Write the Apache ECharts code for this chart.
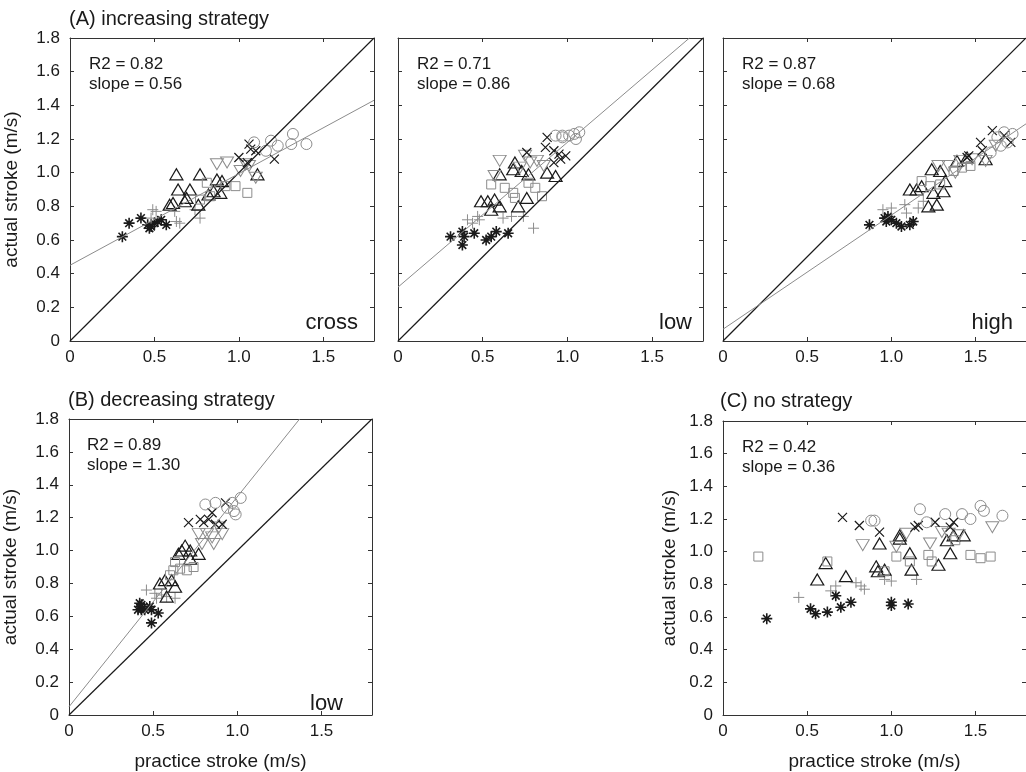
<!DOCTYPE html>
<html><head><meta charset="utf-8">
<script src="https://cdn.jsdelivr.net/npm/echarts@6/dist/echarts.min.js"></script>
<style>html,body{margin:0;padding:0;background:#fff}#c{width:1026px;height:772px}</style>
</head><body><div id="c"></div><script>
// ---------- data (practice stroke, actual stroke) in m/s ----------
const xTicks = [0, 0.5, 1.0, 1.5];
const yTicks = [0, 0.2, 0.4, 0.6, 0.8, 1.0, 1.2, 1.4, 1.6, 1.8];
const panelTitles = ['(A) increasing strategy', '(B) decreasing strategy', '(C) no strategy'];
const statsR2 = ['0.82', '0.71', '0.87', '0.89', '0.42'];
const statsSlope = ['0.56', '0.86', '0.68', '1.30', '0.36'];
const cornerLabels = ['cross', 'low', 'high', 'low', ''];
const identityLine = [[0, 0], [1.8, 1.8]];
const fitA1 = [[0, 0.45], [1.8, 1.43]];
const fitA2 = [[0, 0.32], [1.72, 1.8]];
const fitA3 = [[0, 0.07], [1.8, 1.29]];
const fitB = [[0, 0.05], [1.37, 1.8]];

const A1_star = [[0.31,0.62],[0.35,0.70],[0.42,0.73],[0.46,0.69],[0.48,0.68],[0.50,0.70],[0.52,0.71],[0.54,0.72],[0.57,0.69],[0.47,0.67]];
const A1_plus = [[0.49,0.78],[0.51,0.77],[0.48,0.73],[0.62,0.77],[0.63,0.71],[0.65,0.70],[0.74,0.78],[0.77,0.73]];
const A1_tri = [[0.63,0.99],[0.77,0.99],[0.64,0.90],[0.71,0.90],[0.59,0.81],[0.61,0.82],[0.68,0.83],[0.69,0.85],[0.76,0.81],[0.82,0.87],[0.85,0.89],[0.87,0.96],[0.89,0.88],[0.90,0.95],[1.11,0.99]];
const A1_sq = [[0.77,0.84],[0.81,0.94],[0.83,0.86],[0.92,0.92],[0.98,0.92],[1.05,0.88]];
const A1_dtri = [[0.87,1.05],[0.93,1.06],[1.01,1.01],[1.04,1.05],[1.06,1.04],[1.10,0.97]];
const A1_x = [[1.00,1.09],[1.05,1.06],[1.06,1.17],[1.07,1.14],[1.10,1.13],[1.21,1.08]];
const A1_circ = [[1.09,1.18],[1.16,1.13],[1.19,1.19],[1.23,1.16],[1.31,1.17],[1.32,1.23],[1.40,1.17]];

const A2_star = [[0.31,0.62],[0.38,0.65],[0.39,0.62],[0.38,0.57],[0.45,0.64],[0.52,0.60],[0.55,0.62],[0.58,0.65],[0.65,0.64]];
const A2_plus = [[0.41,0.72],[0.44,0.70],[0.47,0.74],[0.48,0.72],[0.62,0.73],[0.67,0.74],[0.74,0.74],[0.80,0.67]];
const A2_tri = [[0.49,0.83],[0.53,0.83],[0.57,0.84],[0.55,0.78],[0.60,0.80],[0.71,0.80],[0.76,0.85],[0.60,0.99],[0.69,1.06],[0.68,1.02],[0.73,1.01],[0.77,0.99],[0.88,1.00],[0.93,0.98]];
const A2_sq = [[0.55,0.93],[0.63,0.91],[0.68,0.88],[0.69,0.85],[0.77,0.94],[0.81,0.91],[0.85,0.86]];
const A2_dtri = [[0.60,1.07],[0.57,0.98],[0.72,1.03],[0.75,1.10],[0.78,1.06],[0.82,1.07],[0.86,1.04]];
const A2_x = [[0.76,1.12],[0.87,1.15],[0.88,1.21],[0.92,1.13],[0.92,1.06],[0.95,1.11],[0.96,1.08],[0.99,1.10]];
const A2_circ = [[0.93,1.22],[0.97,1.21],[0.97,1.22],[1.01,1.22],[1.04,1.23],[1.05,1.20],[1.07,1.24]];

const A3_star = [[0.87,0.69],[0.96,0.73],[0.97,0.71],[0.98,0.74],[1.00,0.72],[1.03,0.70],[1.06,0.68],[1.11,0.69],[1.13,0.71]];
const A3_plus = [[0.95,0.78],[1.00,0.79],[1.08,0.81],[1.09,0.76],[1.16,0.79],[1.19,0.83]];
const A3_tri = [[1.11,0.90],[1.15,0.90],[1.18,0.92],[1.24,1.02],[1.29,1.01],[1.32,0.95],[1.31,0.89],[1.25,0.88],[1.22,0.80],[1.27,0.81],[1.39,1.07],[1.45,1.09],[1.56,1.08]];
const A3_sq = [[1.18,0.95],[1.23,0.92],[1.29,0.93],[1.37,1.01],[1.42,1.03],[1.47,1.04]];
const A3_dtri = [[1.28,1.04],[1.34,1.04],[1.38,1.00],[1.41,1.07],[1.48,1.08],[1.56,1.07],[1.62,1.16]];
const A3_x = [[1.45,1.09],[1.46,1.10],[1.53,1.18],[1.54,1.13],[1.60,1.25],[1.67,1.22],[1.71,1.18]];
const A3_circ = [[1.59,1.12],[1.63,1.21],[1.65,1.16],[1.67,1.24],[1.69,1.18],[1.72,1.23]];

const B_star = [[0.41,0.64],[0.42,0.68],[0.43,0.64],[0.43,0.67],[0.45,0.64],[0.48,0.66],[0.49,0.64],[0.53,0.62],[0.49,0.56]];
const B_plus = [[0.46,0.76],[0.51,0.74],[0.52,0.71],[0.55,0.73],[0.58,0.72],[0.63,0.71]];
const B_tri = [[0.54,0.80],[0.57,0.82],[0.58,0.72],[0.61,0.82],[0.63,0.78],[0.65,0.98],[0.67,1.00],[0.69,1.03],[0.72,1.00],[0.72,0.95],[0.77,0.98]];
const B_sq = [[0.60,0.85],[0.62,0.88],[0.63,0.93],[0.66,0.89],[0.70,0.88],[0.74,0.90]];
const B_dtri = [[0.77,1.10],[0.79,1.04],[0.82,1.10],[0.85,1.08],[0.86,1.04],[0.89,1.14],[0.91,1.10]];
const B_x = [[0.71,1.17],[0.78,1.19],[0.80,1.17],[0.83,1.19],[0.85,1.23],[0.87,1.16],[0.91,1.16],[0.93,1.29]];
const B_circ = [[0.81,1.28],[0.87,1.29],[0.94,1.26],[0.97,1.29],[0.98,1.24],[0.99,1.22],[1.02,1.32]];

const C_star = [[0.26,0.59],[0.52,0.65],[0.55,0.62],[0.62,0.63],[0.67,0.73],[0.70,0.66],[0.76,0.69],[1.00,0.69],[1.00,0.67],[1.10,0.68]];
const C_plus = [[0.45,0.72],[0.64,0.76],[0.67,0.79],[0.79,0.81],[0.82,0.79],[0.84,0.77],[0.96,0.83],[1.00,0.82],[1.15,0.83]];
const C_tri = [[0.56,0.83],[0.61,0.93],[0.73,0.85],[0.91,0.91],[0.92,0.88],[0.96,0.89],[0.93,1.05],[1.05,1.10],[1.05,1.08],[1.11,0.99],[1.12,0.89],[1.28,0.92],[1.35,0.99],[1.33,1.07],[1.37,1.10],[1.43,1.10]];
const C_sq = [[0.21,0.97],[0.62,0.94],[0.96,0.88],[1.03,0.97],[1.11,0.94],[1.22,0.98],[1.24,0.94],[1.38,1.07],[1.47,0.98],[1.53,0.96],[1.59,0.97]];
const C_dtri = [[0.83,1.04],[1.03,1.03],[1.09,1.11],[1.23,1.05],[1.30,1.12],[1.34,1.11],[1.40,1.10],[1.60,1.15]];
const C_x = [[0.71,1.21],[0.81,1.16],[0.93,1.12],[1.14,1.15],[1.16,1.16],[1.26,1.18],[1.35,1.15],[1.37,1.18]];
const C_circ = [[0.88,1.19],[0.90,1.19],[1.17,1.26],[1.21,1.18],[1.32,1.23],[1.42,1.23],[1.47,1.20],[1.53,1.28],[1.55,1.25],[1.66,1.22]];

// ---------- layout / styling ----------
const FONT = '"Liberation Sans", Arial, Helvetica, sans-serif';
const BLACK = '#1a1a1a', GRAY = '#8c8c8c';
const grids = [
  {left: 70, top: 38, width: 304, height: 303},
  {left: 398, top: 38, width: 305, height: 303},
  {left: 723, top: 38, width: 305, height: 303},
  {left: 68, top: 419, width: 304, height: 303},
  {left: 723, top: 421, width: 305, height: 303}
];
const panelData = [
  {star: A1_star, plus: A1_plus, tri: A1_tri, sq: A1_sq, dtri: A1_dtri, x: A1_x, circ: A1_circ, fit: fitA1, ident: true, yLab: true, yName: true, xName: false},
  {star: A2_star, plus: A2_plus, tri: A2_tri, sq: A2_sq, dtri: A2_dtri, x: A2_x, circ: A2_circ, fit: fitA2, ident: true, yLab: false, yName: false, xName: false},
  {star: A3_star, plus: A3_plus, tri: A3_tri, sq: A3_sq, dtri: A3_dtri, x: A3_x, circ: A3_circ, fit: fitA3, ident: true, yLab: false, yName: false, xName: false},
  {star: B_star, plus: B_plus, tri: B_tri, sq: B_sq, dtri: B_dtri, x: B_x, circ: B_circ, fit: fitB, ident: true, yLab: true, yName: true, xName: true},
  {star: C_star, plus: C_plus, tri: C_tri, sq: C_sq, dtri: C_dtri, x: C_x, circ: C_circ, fit: null, ident: false, yLab: true, yName: true, xName: true}
];
const markers = {
  star: {symbol: 'path://M5 0L5 10M0 5L10 5M1.5 1.5L8.5 8.5M1.5 8.5L8.5 1.5', size: 11, color: BLACK, width: 1.6},
  plus: {symbol: 'path://M6 0L6 12M0 6L12 6', size: 11, color: GRAY, width: 1},
  tri: {symbol: 'triangle', size: [13, 11], color: BLACK, width: 1.2},
  sq: {symbol: 'rect', size: 9, color: GRAY, width: 1},
  dtri: {symbol: 'triangle', size: [13, 11], color: GRAY, width: 1, rotate: 180},
  x: {symbol: 'path://M0 0L10 10M0 10L10 0', size: 9, color: BLACK, width: 1.2},
  circ: {symbol: 'circle', size: 11, color: GRAY, width: 1}
};
const fmt = v => (v === 0 ? '0' : v.toFixed(1));
const axisLineStyle = {color: '#333', width: 1};

const xAxis = [], yAxis = [], series = [], graphic = [];
grids.forEach((g, i) => {
  const p = panelData[i];
  const common = {
    type: 'value', gridIndex: i, min: 0, max: 1.8,
    axisLine: {show: true, onZero: false, lineStyle: axisLineStyle},
    axisTick: {show: true, inside: true, length: 4, lineStyle: axisLineStyle},
    splitLine: {show: false}
  };
  xAxis.push(Object.assign({}, common, {
    position: 'bottom', interval: 0.5,
    axisLabel: {show: true, formatter: v => (xTicks.includes(v) ? fmt(v) : ''), showMaxLabel: false,
      fontSize: 17, fontFamily: FONT, color: BLACK, margin: 8},
    name: p.xName ? 'practice stroke (m/s)' : '', nameLocation: 'middle', nameGap: 37,
    nameTextStyle: {fontSize: 19, fontFamily: FONT, color: BLACK}
  }));
  xAxis.push(Object.assign({}, common, {position: 'top', interval: 0.5, axisLabel: {show: false}}));
  yAxis.push(Object.assign({}, common, {
    position: 'left', interval: 0.2,
    axisLabel: {show: p.yLab, formatter: v => fmt(v), fontSize: 17, fontFamily: FONT, color: BLACK, margin: 10},
    name: p.yName ? 'actual stroke (m/s)' : '', nameLocation: 'middle', nameGap: i === 4 ? 44 : 49,
    nameTextStyle: {fontSize: 19, fontFamily: FONT, color: BLACK}
  }));
  yAxis.push(Object.assign({}, common, {position: 'right', interval: 0.2, axisLabel: {show: false}}));

  Object.keys(markers).forEach(k => {
    const m = markers[k];
    series.push({
      type: 'scatter', xAxisIndex: i * 2, yAxisIndex: i * 2, data: p[k],
      symbol: m.symbol, symbolSize: m.size, symbolRotate: m.rotate || 0,
      itemStyle: {color: 'transparent', borderColor: m.color, borderWidth: m.width, opacity: 1},
      emphasis: {disabled: true}, silent: true, z: 2
    });
  });
  if (p.ident) {
    series.push({type: 'line', xAxisIndex: i * 2, yAxisIndex: i * 2, data: identityLine,
      symbol: 'none', lineStyle: {color: BLACK, width: 1.2}, silent: true, z: 3});
  }
  if (p.fit) {
    series.push({type: 'line', xAxisIndex: i * 2, yAxisIndex: i * 2, data: p.fit,
      symbol: 'none', lineStyle: {color: GRAY, width: 1}, silent: true, z: 3});
  }
  graphic.push({type: 'text', x: g.left + 19, y: g.top + 26,
    style: {text: 'R2 = ' + statsR2[i], font: '17px ' + FONT, fill: BLACK, verticalAlign: 'middle'}});
  graphic.push({type: 'text', x: g.left + 19, y: g.top + 46,
    style: {text: 'slope = ' + statsSlope[i], font: '17px ' + FONT, fill: BLACK, verticalAlign: 'middle'}});
  if (cornerLabels[i]) {
    graphic.push({type: 'text', x: [358, 692, 1013, 343][i], y: g.top + g.height - 18,
      style: {text: cornerLabels[i], font: '22px ' + FONT, fill: BLACK, align: 'right', verticalAlign: 'middle'}});
  }
});
graphic.push({type: 'text', x: 69, y: 19, style: {text: panelTitles[0], font: '20px ' + FONT, fill: BLACK, verticalAlign: 'middle'}});
graphic.push({type: 'text', x: 68, y: 400, style: {text: panelTitles[1], font: '20px ' + FONT, fill: BLACK, verticalAlign: 'middle'}});
graphic.push({type: 'text', x: 720, y: 401, style: {text: panelTitles[2], font: '20px ' + FONT, fill: BLACK, verticalAlign: 'middle'}});

const chart = echarts.init(document.getElementById('c'), null, {renderer: 'canvas'});
chart.setOption({
  animation: false,
  backgroundColor: '#fff',
  grid: grids.map(g => Object.assign({containLabel: false}, g)),
  xAxis, yAxis, series, graphic
});
</script></body></html>
